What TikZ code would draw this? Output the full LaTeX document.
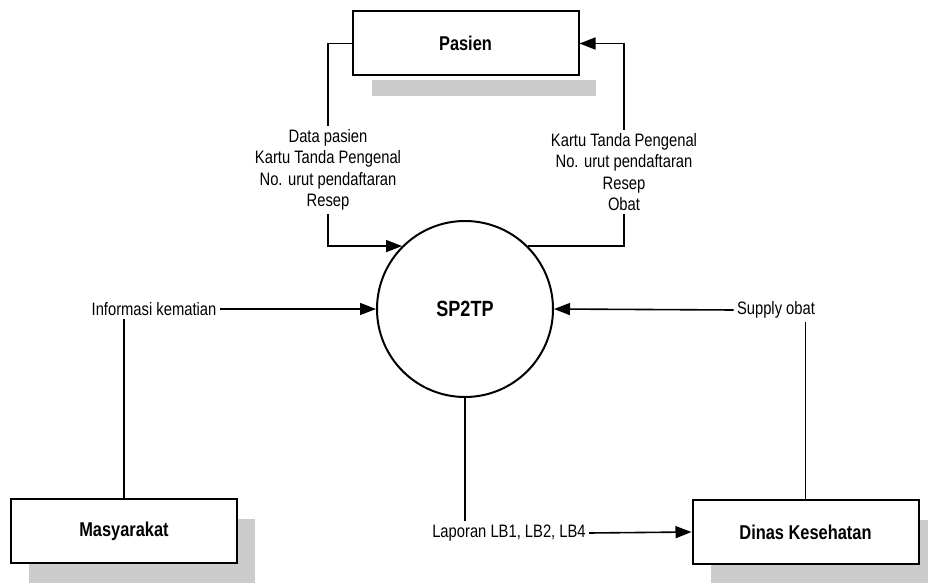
\documentclass[tikz,border=0pt]{standalone}
\usepackage{fontspec}
\setmainfont{Liberation Sans}[FakeStretch=0.82]
\usetikzlibrary{arrows.meta,positioning,shadows}
\tikzset{
  entity/.style={draw=black,fill=white,line width=1pt,
                 minimum width=113pt,minimum height=32pt,
                 font=\fontsize{10}{12}\selectfont\bfseries},
  process/.style={circle,draw=black,fill=white,line width=1pt,
                  minimum size=88pt,inner sep=0pt,
                  font=\fontsize{11}{13}\selectfont\bfseries},
  flowlbl/.style={align=center,inner sep=1.5pt,
                  font=\fontsize{9}{10.75}\selectfont},
  flow/.style={-{Triangle[length=8pt,width=6pt]},line width=0.8pt},
  link/.style={line width=0.8pt},
  shade/.style={fill=black!20},
  boxshadow/.style={drop shadow={shadow xshift=9pt,shadow yshift=-10pt,
                    fill=black!20,opacity=1}}
}

\begin{document}
\begin{tikzpicture}[x=0.5pt,y=-0.5pt]
  \useasboundingbox (0,0) rectangle (928,583);
  % external entities and the process
  \node[entity] (pasien) at (465.5,43.5) {Pasien};
  \fill[shade] ([xshift=10pt,yshift=-2pt]pasien.south west)
    rectangle ([xshift=8pt,yshift=-10pt]pasien.south east);
  \node[entity,boxshadow] (masy) at (124,531) {Masyarakat};
  \node[entity,boxshadow] (dinas) at (805.5,532) {Dinas Kesehatan};
  \node[process] (sp) at (465,309) {SP2TP};

  % data flow labels
  \node[flowlbl] (datain) at (328,170) {Data pasien\\Kartu Tanda Pengenal\\No. urut pendaftaran\\Resep};
  \node[flowlbl] (dataout) at (624,172) {Kartu Tanda Pengenal\\No. urut pendaftaran\\Resep\\Obat};
  \node[flowlbl] (mati) at (154,309) {Informasi kematian};
  \node[flowlbl] (supply) at (776,310) {Supply obat};
  \node[flowlbl] (lapor) at (509,533) {Laporan LB1, LB2, LB4};

  % flows
  \draw[link] (pasien.west) -| (datain.north);
  \draw[flow] (datain.south) |- (sp.135);
  \draw[link] (sp.45) -| (dataout.south);
  \draw[flow] (dataout.north) |- (pasien.east);
  \draw[link] (masy.north) -- (masy.north |- mati.south);
  \draw[flow] (mati.east) -- (sp.west);
  \draw[link] (dinas.north) -- (dinas.north |- supply.south);
  \draw[flow] (supply.west) -- (sp.east);
  \draw[link] (sp.south) -- (sp.south |- lapor.north);
  \draw[flow] (lapor.east) -- (dinas.west);
\end{tikzpicture}
\end{document}
